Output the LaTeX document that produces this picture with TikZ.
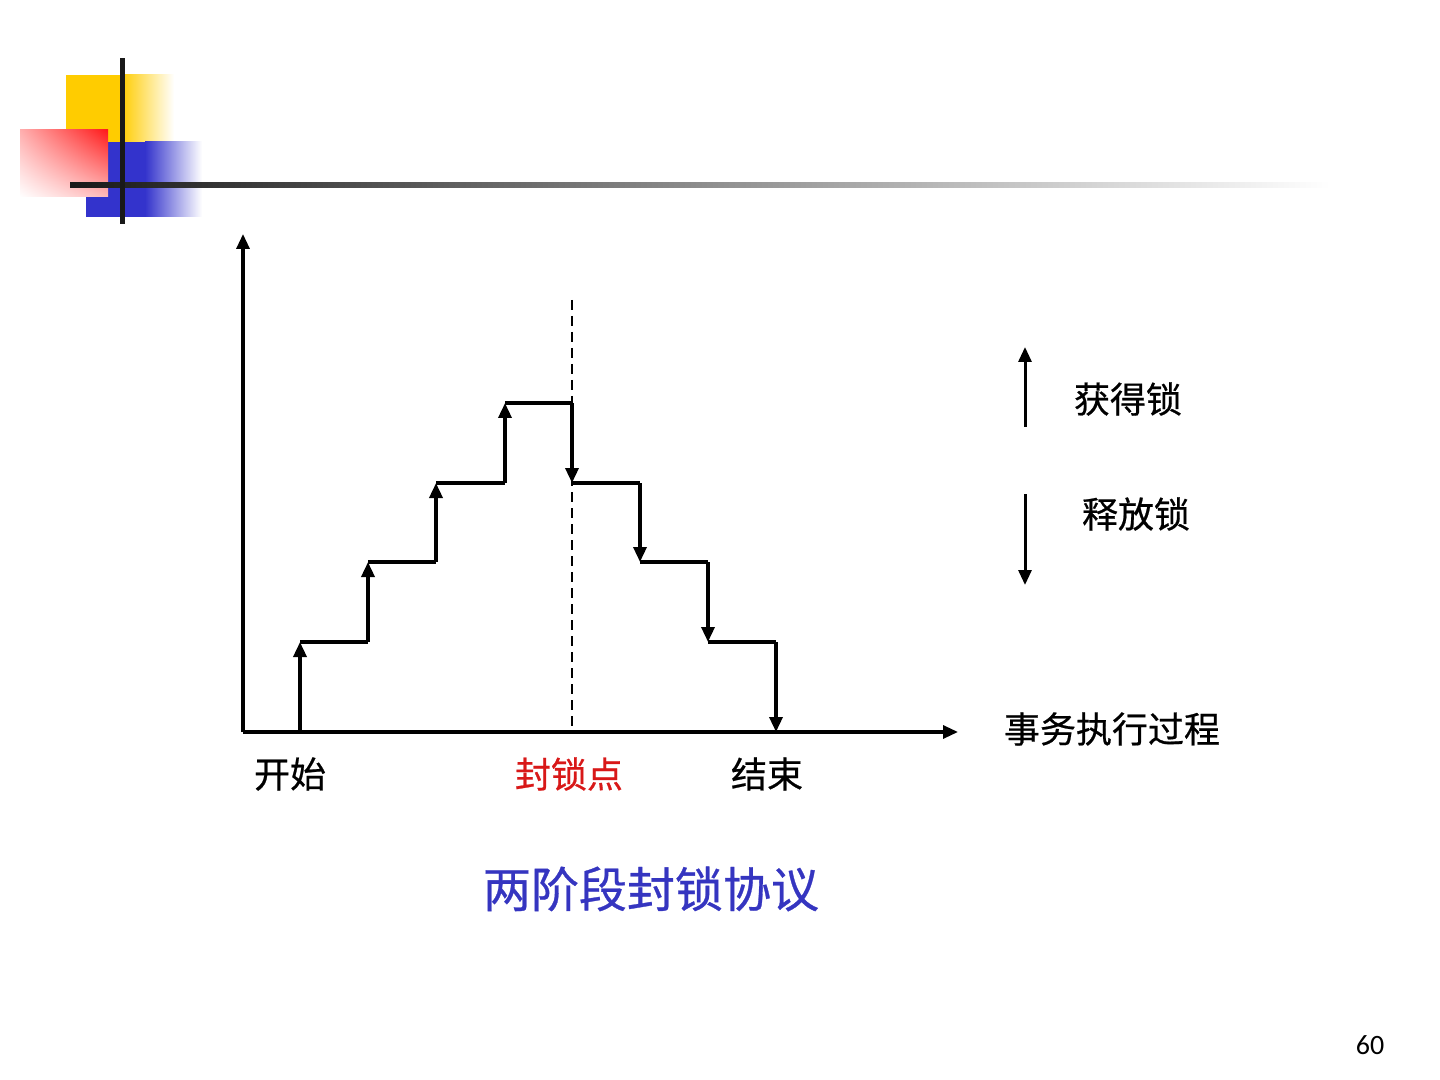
\documentclass[tikz,border=0pt]{standalone}
\usepackage{fontspec}
\usepackage{tikz}
\usetikzlibrary{arrows.meta}
\usetikzlibrary{shadings}
\newfontfamily\cjk[FakeBold=0.6]{Noto Sans CJK SC}
\newfontfamily\numfont{Carlito}
\definecolor{decoYellow}{HTML}{FFCC00}
\definecolor{decoBlue}{HTML}{3333CC}
\definecolor{decoRed}{HTML}{FF1A1A}
\definecolor{titleBlue}{HTML}{3535C0}
\definecolor{pointRed}{HTML}{D81818}

\begin{document}
\begin{tikzpicture}[
		x=0.5pt, y=-0.5pt,
		axisline/.style={line width=1.6pt, -{Triangle[length=7.5pt,width=6.5pt]}},
		uparrow/.style={line width=1.7pt, -{Triangle[length=7.5pt,width=6.5pt]}},
		downarrow/.style={line width=1.7pt, -{Triangle[length=7.5pt,width=6.5pt]}},
		stepline/.style={line width=1.7pt},
		lbl/.style={font=\cjk\fontsize{18}{18}\selectfont, inner sep=0pt},
		]
		\useasboundingbox (0,0) rectangle (1440,1080);

		% Corner decoration
		\fill[decoYellow] (66,75) rectangle (122,143);
		\shade[left color=decoYellow, right color=white] (121,75) rectangle (174,143);
		\fill[decoBlue] (86,142) rectangle (146,217);
		\shade[left color=decoBlue, right color=white] (145,142) rectangle (202,217);
		\shade[upper left=decoRed!35, upper right=decoRed, lower left=white, lower right=decoRed!30] (20,130) rectangle (108,197);
		\shade[left color=black!90, right color=white] (70,183) rectangle (1330,188);
		\fill[black!90] (120,58) rectangle (125,224);

		% Axes
		\coordinate (origin) at (243,732);
		\coordinate (ytop) at (243,234);
		\coordinate (xend) at (958,732);
		\draw[axisline] (origin) -- (ytop);
		\draw[axisline] (origin) -- (xend);

		% Lock point
		\draw[dashed, line width=0.6pt, dash pattern=on 5pt off 3pt] (572,300) -- (572,732);

		% Growing phase
		\foreach \x/\ya/\yb/\xn in {300/732/642/368, 368/642/562/436, 436/562/483/505, 505/483/403/572}{
			\draw[uparrow] (\x,\ya) -- (\x,\yb);
			\draw[stepline] (\x,\yb) -- (\xn,\yb);
		}
		% Shrinking phase
		\foreach \x/\ya/\yb/\xn in {572/403/483/640, 640/483/562/708, 708/562/642/776}{
			\draw[downarrow] (\x,\ya) -- (\x,\yb);
			\draw[stepline] (\x,\yb) -- (\xn,\yb);
		}
		\draw[downarrow] (776,642) -- (776,732);

		% Legend
		\draw[uparrow, line width=1.5pt] (1025,427) -- (1025,347);
		\node[lbl] (acquire) at (1128,399) {获得锁};
		\draw[downarrow, line width=1.5pt] (1025,494) -- (1025,585);
		\node[lbl] (release) at (1136,514) {释放锁};

		% Labels
		\node[lbl] (process) at (1112,729) {事务执行过程};
		\node[lbl] (start) at (290,774) {开始};
		\node[lbl, text=pointRed] (lockpt) at (569,774) {封锁点};
		\node[lbl] (finish) at (767,774) {结束};
		\node[font=\cjk\fontsize{24}{24}\selectfont, text=titleBlue, inner sep=0pt] (title) at (651,889) {两阶段封锁协议};
		\node[font=\numfont\fontsize{14}{14}\selectfont, inner sep=0pt] (pagenum) at (1370,1045) {60};
	\end{tikzpicture}
\end{document}
